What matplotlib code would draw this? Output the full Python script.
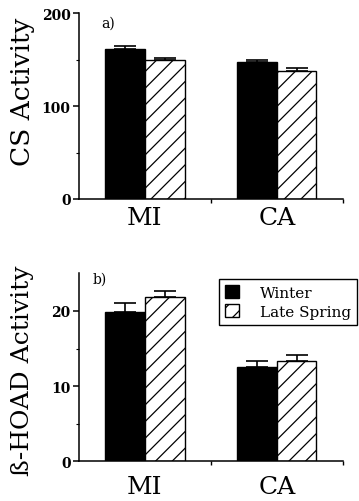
import numpy as np
import matplotlib
matplotlib.use("Agg")
import matplotlib.pyplot as plt
from matplotlib.patches import Patch

plt.rcParams["font.family"] = ["DejaVu Serif"]
plt.rcParams["hatch.linewidth"] = 0.9

# Data
sites = ["MI", "CA"]
seasons = ["Winter", "Late Spring"]
cs_winter = [161, 147]
cs_winter_err = [4, 3]
cs_spring = [149.5, 137.5]
cs_spring_err = [2.5, 3.5]
hoad_winter = [19.8, 12.5]
hoad_winter_err = [1.3, 0.9]
hoad_spring = [21.8, 13.3]
hoad_spring_err = [0.8, 0.8]

fig = plt.figure(figsize=(3.59, 5.02), dpi=100)
ax_a = fig.add_axes([0.220, 0.6016, 0.735, 0.370])
ax_b = fig.add_axes([0.220, 0.079, 0.735, 0.3745])

centers = np.array([0.25, 0.75])
w = 0.15


def panel(ax, win, win_err, spr, spr_err, ymax, ticks, minor, pad):
    ax.bar(centers - w / 2, win, w, color="black", edgecolor="black", linewidth=1)
    ax.bar(centers + w / 2, spr, w, color="white", edgecolor="black",
           linewidth=1, hatch="//")
    ax.errorbar(centers - w / 2, win, yerr=[np.zeros(2), win_err], fmt="none",
                ecolor="black", elinewidth=1.2, capsize=8, capthick=1.2)
    ax.errorbar(centers + w / 2, spr, yerr=[np.zeros(2), spr_err], fmt="none",
                ecolor="black", elinewidth=1.2, capsize=8, capthick=1.2)
    ax.set_xlim(0, 1)
    ax.set_ylim(0, ymax)
    ax.spines["top"].set_visible(False)
    ax.spines["right"].set_visible(False)
    ax.spines["left"].set_linewidth(1.1)
    ax.spines["bottom"].set_linewidth(1.1)
    ax.set_yticks(ticks)
    ax.set_yticks(minor, minor=True)
    ax.set_yticklabels([str(t) for t in ticks], fontsize=10, fontweight="bold")
    ax.tick_params(axis="y", which="major", length=4, width=1.1, pad=2)
    ax.tick_params(axis="y", which="minor", length=2, width=0.8)
    ax.set_xticks(centers)
    ax.set_xticklabels(sites, fontsize=18)
    ax.set_xticks([0.5, 1.0], minor=True)
    ax.tick_params(axis="x", which="major", length=0, pad=pad)
    ax.tick_params(axis="x", which="minor", length=3, width=1)


panel(ax_a, cs_winter, cs_winter_err, cs_spring, cs_spring_err,
      200, [0, 100, 200], [50, 150], 5)
panel(ax_b, hoad_winter, hoad_winter_err, hoad_spring, hoad_spring_err,
      25, [0, 10, 20], [5, 15], 10)

ax_a.text(0.085, 0.95, "a)", transform=ax_a.transAxes, fontsize=10,
          ha="left", va="center")
ax_b.text(0.05, 0.97, "b)", transform=ax_b.transAxes, fontsize=10,
          ha="left", va="center")

fig.text(0.064, 0.817, "CS Activity", rotation=90, ha="center", va="center",
         fontsize=19)
fig.text(0.064, 0.261, "ß-HOAD Activity", rotation=90, ha="center",
         va="center", fontsize=18)

handles = [Patch(facecolor="black", edgecolor="black", label=seasons[0]),
           Patch(facecolor="white", edgecolor="black", hatch="//",
                 label=seasons[1])]
leg = fig.legend(handles=handles, loc="upper left",
                 bbox_to_anchor=(0.61, 0.442), bbox_transform=fig.transFigure,
                 borderaxespad=0,
                 fontsize=11, frameon=True, fancybox=False, framealpha=1,
                 edgecolor="black", handlelength=0.9, handleheight=0.9,
                 handletextpad=1.4, borderpad=0.4, labelspacing=0.3)
leg.get_frame().set_linewidth(1)

fig.savefig("out.png", dpi=100)
